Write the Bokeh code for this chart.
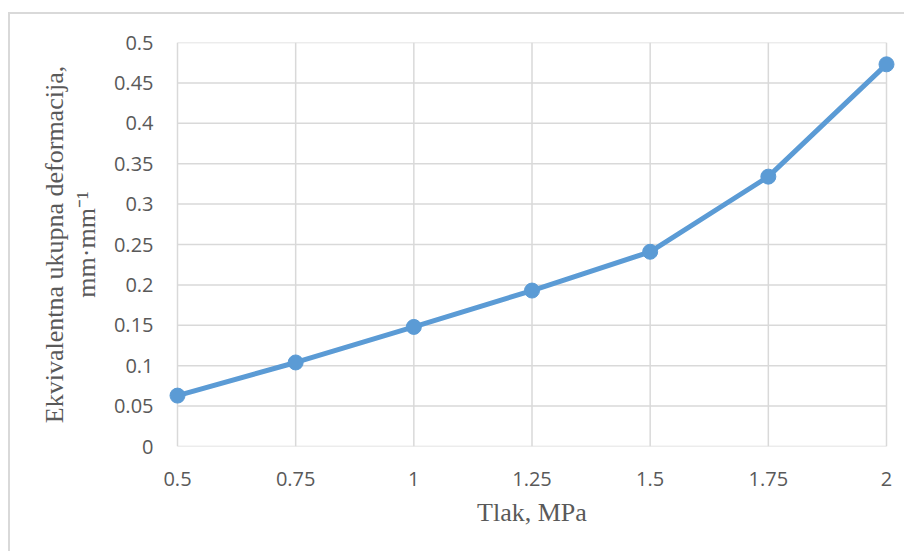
from bokeh.plotting import figure
from bokeh.models import Range1d, FixedTicker, ColumnDataSource, NumeralTickFormatter
from bokeh.embed import file_html
from bokeh.resources import INLINE

# Data
pressure = [0.5, 0.75, 1.0, 1.25, 1.5, 1.75, 2.0]          # Tlak, MPa
strain = [0.063, 0.104, 0.148, 0.193, 0.241, 0.334, 0.473]  # mm/mm
x_ticks = [0.5, 0.75, 1.0, 1.25, 1.5, 1.75, 2.0]
y_ticks = [0.0, 0.05, 0.1, 0.15, 0.2, 0.25, 0.3, 0.35, 0.4, 0.45, 0.5]
x_title = "Tlak, MPa"
y_title = "Ekvivalentna ukupna deformacija,\nmm\u00b7mm\u207b\u00b9"

x_min, x_max = x_ticks[0], x_ticks[-1]
y_min, y_max = y_ticks[0], y_ticks[-1]
pad = (x_max - x_min) * 10 / 709.0

GRID = "#d9d9d9"
TXT = "#595959"
BLUE = "#5b9bd5"

p = figure(width=896, height=539, output_backend="svg", toolbar_location=None,
           x_range=Range1d(x_min - pad, x_max + pad), y_range=Range1d(y_min, y_max),
           min_border_left=157, min_border_right=10, min_border_top=28, min_border_bottom=107)
p.outline_line_color = None
p.xgrid.visible = False
p.ygrid.visible = False
p.background_fill_color = "white"
p.border_fill_color = "white"

# gridlines limited to data extent
vsrc = ColumnDataSource(dict(x0=x_ticks, y0=[y_min] * len(x_ticks), x1=x_ticks, y1=[y_max] * len(x_ticks)))
hsrc = ColumnDataSource(dict(x0=[x_min] * len(y_ticks), y0=y_ticks, x1=[x_max] * len(y_ticks), y1=y_ticks))
p.segment("x0", "y0", "x1", "y1", source=vsrc, line_color=GRID, line_width=1.5)
p.segment("x0", "y0", "x1", "y1", source=hsrc, line_color=GRID, line_width=1.5)

src = ColumnDataSource(dict(x=pressure, y=strain))
p.line("x", "y", source=src, line_color=BLUE, line_width=5)
p.scatter("x", "y", source=src, size=15, fill_color=BLUE, line_color=BLUE)

for ax in (p.xaxis[0], p.yaxis[0]):
    ax.axis_line_color = None
    ax.major_tick_line_color = None
    ax.minor_tick_line_color = None
    ax.major_tick_out = 0
    ax.major_tick_in = 0
    ax.minor_tick_out = 0
    ax.major_label_text_font = "Open Sans"
    ax.major_label_text_font_size = "20px"
    ax.major_label_text_color = TXT
    ax.axis_label_text_font = "Liberation Serif"
    ax.axis_label_text_font_size = "26px"
    ax.axis_label_text_font_style = "normal"
    ax.axis_label_text_color = TXT
    ax.formatter = NumeralTickFormatter(format="0.[00]")

p.xaxis.ticker = FixedTicker(ticks=x_ticks)
p.yaxis.ticker = FixedTicker(ticks=y_ticks)
p.xaxis.major_label_standoff = 25
p.yaxis.major_label_standoff = 14
p.xaxis.axis_label = x_title
p.yaxis.axis_label = y_title
p.xaxis.axis_label_standoff = 9
p.yaxis.axis_label_standoff = 10
p.yaxis.axis_label_text_line_height = 1.1

p.margin = (12, 0, 0, 8)
p.styles = {"border-left": "2px solid #d9d9d9", "border-top": "2px solid #d9d9d9"}

open("out.html", "w").write(file_html(p, INLINE))
